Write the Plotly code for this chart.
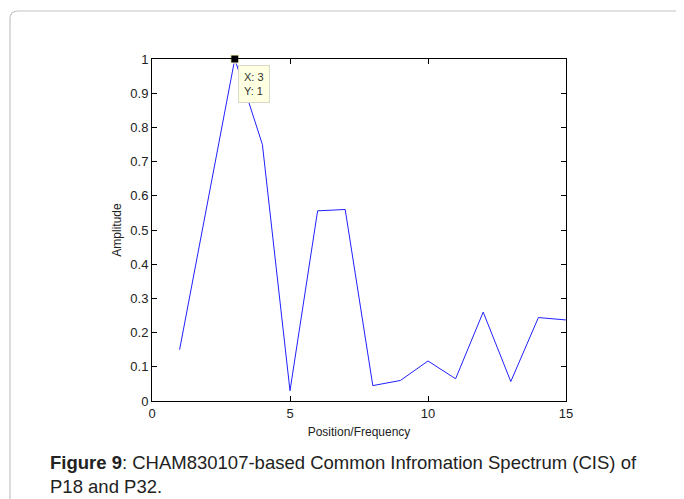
import plotly.graph_objects as go

position = list(range(1, 16))
amplitude = [0.15, 0.575, 1.0, 0.75, 0.03, 0.556, 0.56, 0.045, 0.06, 0.117,
             0.065, 0.26, 0.057, 0.244, 0.237]
x_ticks = [0, 5, 10, 15]
y_ticks = [0, 0.1, 0.2, 0.3, 0.4, 0.5, 0.6, 0.7, 0.8, 0.9, 1]
y_labels = ["0", "0.1", "0.2", "0.3", "0.4", "0.5", "0.6", "0.7", "0.8", "0.9", "1"]
tip_x, tip_y = 3, 1

# page body has an 8px margin, so the figure is made 8px smaller
OFF = 8
W, H = 684 - OFF, 499 - OFF
L, R, T, B = 152 - OFF, 118, 59 - OFF, 98
pw, ph = W - L - R, H - T - B


def px(v):
    # screen pixel -> paper x
    return (v - OFF - L) / pw


def py(v):
    # screen pixel -> paper y
    return (H - B - (v - OFF)) / ph


FONT = "Liberation Sans, Arial"

fig = go.Figure()
fig.add_trace(go.Scatter(x=position, y=amplitude, mode="lines",
                         line=dict(color="#2020ff", width=1), hoverinfo="skip"))
fig.add_trace(go.Scatter(x=[tip_x], y=[tip_y], mode="markers",
                         marker=dict(symbol="square", size=8, color="black",
                                     line=dict(color="#ffffcc", width=1)),
                         cliponaxis=False, hoverinfo="skip"))

fig.add_annotation(x=tip_x, y=tip_y, xref="x", yref="y",
                   text="X: 3<br>Y: 1", showarrow=False, align="left",
                   xanchor="left", yanchor="top", xshift=3, yshift=-6,
                   bgcolor="#ffffe1", bordercolor="#d8d8c8", borderwidth=1, borderpad=5,
                   font=dict(family=FONT, size=11, color="#333333"))

# rounded frame around the figure
r = 8
path = (f"M {px(10)},{py(520)} L {px(10)},{py(11 + r)} "
        f"Q {px(10)},{py(11)} {px(10 + r)},{py(11)} L {px(720)},{py(11)}")
fig.add_shape(type="path", path=path, xref="paper", yref="paper",
              line=dict(color="#c4c4c4", width=1.2))

fig.add_annotation(x=px(48), y=py(450), xref="paper", yref="paper",
                   text="<b>Figure 9</b>: CHAM830107-based Common Infromation Spectrum (CIS) of<br>P18 and P32.",
                   showarrow=False, xanchor="left", yanchor="top", align="left",
                   font=dict(family=FONT, size=18.5, color="#222222"))

axis_common = dict(showgrid=False, zeroline=False, showline=True, linecolor="black",
                   linewidth=1, mirror="ticks", ticks="inside", ticklen=5,
                   tickcolor="black",
                   tickfont=dict(family=FONT, size=13, color="#222222"))

fig.update_xaxes(range=[0, 15], tickvals=x_ticks,
                 title=dict(text="Position/Frequency", standoff=8,
                            font=dict(family=FONT, size=12, color="#222222")),
                 **axis_common)
fig.update_yaxes(range=[0, 1], tickvals=y_ticks, ticktext=y_labels,
                 title=dict(text="Amplitude", standoff=6,
                            font=dict(family=FONT, size=12, color="#222222")),
                 **axis_common)

fig.update_layout(width=W, height=H, margin=dict(l=L, r=R, t=T, b=B),
                  paper_bgcolor="white", plot_bgcolor="white", showlegend=False)

fig.write_html("out.html")
